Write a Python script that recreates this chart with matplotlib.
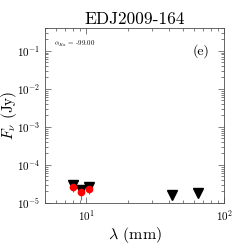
import matplotlib
matplotlib.use("Agg")
import matplotlib.pyplot as plt

plt.rcParams["font.family"] = "serif"
plt.rcParams["font.serif"] = ["cmr10", "DejaVu Serif"]
plt.rcParams["mathtext.fontset"] = "cm"
plt.rcParams["axes.formatter.use_mathtext"] = True

# upper limits (black triangles)
lim_wave = [8.0, 9.1, 10.4, 41.5, 65.0]
lim_flux = [3.0e-5, 2.2e-5, 2.6e-5, 1.6e-5, 1.8e-5]

# measured fluxes (red dots) with errors
det_wave = [8.0, 9.1, 10.4]
det_flux = [2.6e-5, 1.9e-5, 2.3e-5]
det_err = [0.7e-5, 0.7e-5, 0.6e-5]

fig = plt.figure(figsize=(2.49, 2.49), dpi=100)
ax = fig.add_axes([0.181, 0.185, 0.719, 0.703])

ax.errorbar(det_wave, det_flux, yerr=det_err, fmt="none", ecolor="0.45",
            elinewidth=0.8, capsize=0, zorder=1)
ax.plot(lim_wave, lim_flux, "v", color="black", ms=6.5, zorder=2)
ax.plot(det_wave, det_flux, "o", color="red", ms=4.5, mec="red", zorder=3)

ax.set_xscale("log")
ax.set_yscale("log")
ax.set_xlim(5, 100)
ax.set_ylim(1e-5, 0.4)

for s in ax.spines.values():
    s.set_linewidth(0.6)
    s.set_color("0.3")
ax.tick_params(which="both", direction="in", top=True, right=True,
               labelsize=8, colors="0.3", labelcolor="black", width=0.5)
ax.tick_params(which="major", length=4)
ax.tick_params(which="minor", length=2)

ax.set_xlabel(r"$\lambda$ (mm)", fontsize=11.5, labelpad=2)
ax.set_ylabel(r"$F_\nu$ (Jy)", fontsize=11)
ax.yaxis.set_label_coords(-0.145, 0.5)
ax.set_title("EDJ2009-164", fontsize=12.5, pad=3)

ax.text(0.05, 0.94, r"$\alpha_{Ka}$ = -99.00", transform=ax.transAxes,
        fontsize=5, va="top", ha="left")
ax.text(0.87, 0.87, "(e)", transform=ax.transAxes, fontsize=10,
        va="center", ha="center")

fig.savefig("out.png", dpi=100)
